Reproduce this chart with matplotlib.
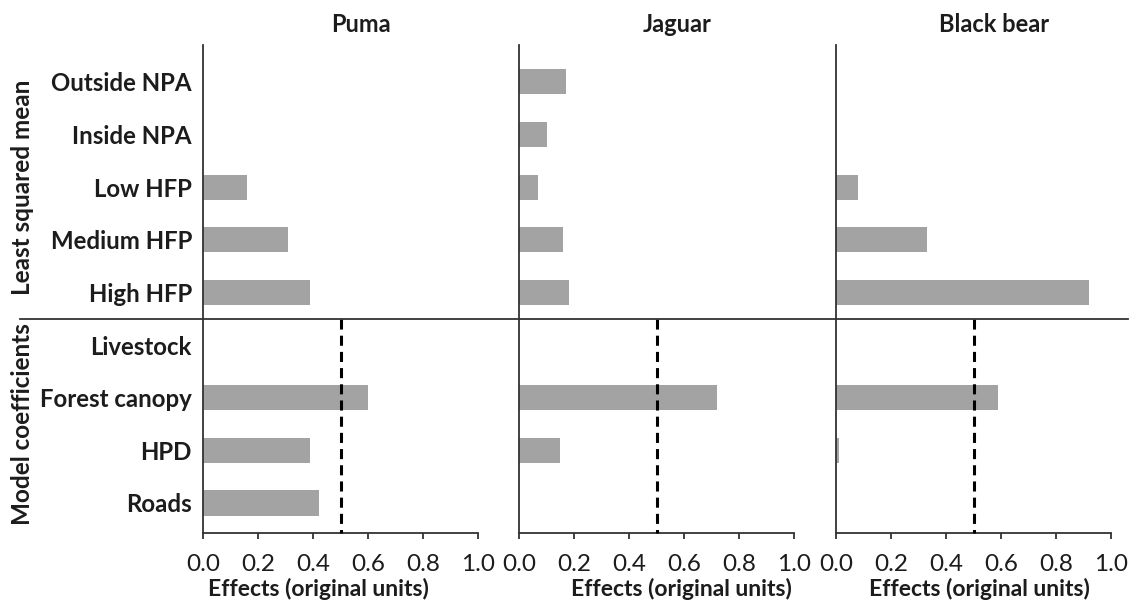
import matplotlib.pyplot as plt
import matplotlib.transforms as mtransforms
from matplotlib.lines import Line2D

# Данные
categories = ["Outside NPA", "Inside NPA", "Low HFP", "Medium HFP", "High HFP",
              "Livestock", "Forest canopy", "HPD", "Roads"]
species = ["Puma", "Jaguar", "Black bear"]
puma = [0.0, 0.0, 0.16, 0.31, 0.39, 0.0, 0.60, 0.39, 0.42]
jaguar = [0.17, 0.10, 0.07, 0.16, 0.18, 0.0, 0.72, 0.15, 0.0]
black_bear = [0.0, 0.0, 0.08, 0.33, 0.92, 0.0, 0.59, 0.01, 0.0]
groups = ["Least squared mean", "Model coefficients"]
threshold = 0.5
xticks = [0.0, 0.2, 0.4, 0.6, 0.8, 1.0]
xlabel = "Effects (original units)"

plt.rcParams['font.family'] = ['Lato', 'DejaVu Sans']
TEXT = "#1c1c1c"
BAR = "#a3a3a3"
SPINE = "#333333"

W, H = 1132, 605
fig = plt.figure(figsize=(W / 100, H / 100), dpi=100)

lefts = [203, 519, 836]
ax_w, ax_top, ax_bot = 316, 45, 533
label_x = [0.42, 0.59, 0.52]
n_top = 5
pos = list(range(len(categories)))

axes = []
for k, (name, vals) in enumerate(zip(species, [puma, jaguar, black_bear])):
    ax = fig.add_axes([lefts[k] / W, (H - ax_bot) / H, ax_w / W, (ax_bot - ax_top) / H])
    ax.barh(pos, vals, height=0.48, color=BAR, edgecolor="none")
    ax.set_xlim(0, ax_w / 275)
    ax.set_ylim(8.57, -0.70)

    # пунктир только в нижней части (коэффициенты модели)
    ax.plot([threshold, threshold], [n_top - 0.5, 8.57], color="black", lw=2.2,
            linestyle=(0, (3.3, 2.0)), clip_on=False, zorder=3)

    for s in ["top", "right"]:
        ax.spines[s].set_visible(False)
    for s in ["left", "bottom"]:
        ax.spines[s].set_color(SPINE)
        ax.spines[s].set_linewidth(1.3)
    ax.spines["bottom"].set_bounds(0, 1.0)

    ax.set_xticks(xticks)
    ax.set_xticklabels([f"{t:.1f}" for t in xticks])
    ax.tick_params(axis="x", length=4, width=1.3, color=SPINE, pad=11,
                   labelsize=17.5, labelcolor=TEXT)
    ax.set_yticks(pos)
    if k == 0:
        ax.set_yticklabels(categories, fontsize=17.3, fontweight="bold", color=TEXT)
        offset = mtransforms.ScaledTranslation(0, 5 / 72, fig.dpi_scale_trans)
        for lab in ax.get_yticklabels():
            lab.set_transform(lab.get_transform() + offset)
    else:
        ax.set_yticklabels([])
    ax.tick_params(axis="y", length=0, pad=8)

    ax.text(0.5, 1 + 20 / (ax_bot - ax_top), name, transform=ax.transAxes,
            ha="center", va="center", fontsize=17, fontweight="bold", color=TEXT)
    tr = mtransforms.blended_transform_factory(ax.transData, ax.transAxes)
    ax.text(label_x[k], -56 / (ax_bot - ax_top), xlabel, transform=tr,
            ha="center", va="center", fontsize=16.5, fontweight="bold", color=TEXT)
    ax.patch.set_alpha(0)
    axes.append(ax)

# разделительная линия между группами
sep = mtransforms.blended_transform_factory(fig.transFigure, axes[0].transData)
fig.add_artist(Line2D([20 / W, 1128 / W], [n_top - 0.5, n_top - 0.5], transform=sep,
                      color=SPINE, lw=1.3))

# подписи групп слева
fig.text(23 / W, (n_top - 1) / 2, groups[0], transform=sep, rotation=90,
         ha="center", va="center", fontsize=17.5, fontweight="bold", color=TEXT)
fig.text(23 / W, 6.5, groups[1], transform=sep, rotation=90,
         ha="center", va="center", fontsize=17.5, fontweight="bold", color=TEXT)

fig.savefig("out.png", dpi=100)
